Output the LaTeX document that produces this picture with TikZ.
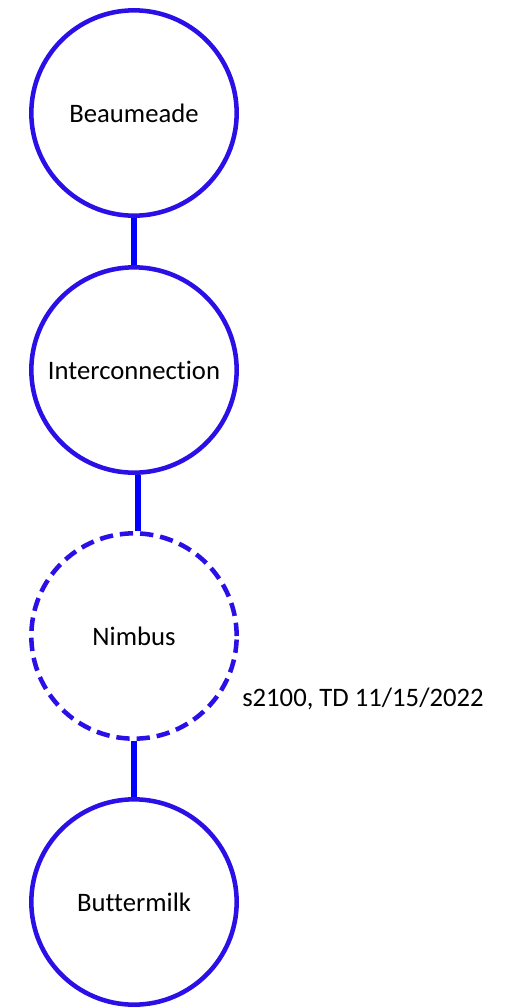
\documentclass[tikz,border=0pt]{standalone}
\usepackage{fontspec}
\setmainfont[Ligatures=NoCommon]{Carlito}
\definecolor{ringblue}{HTML}{2A10E6}
\definecolor{linkblue}{HTML}{0000FF}
\begin{document}
\begin{tikzpicture}[x=0.75pt,y=-0.75pt,
  site/.style={circle,draw=ringblue,line width=3.4pt,minimum size=154pt,inner sep=0pt,
    font=\fontsize{20pt}{24pt}\selectfont,text=black},
  planned/.style={site,dash pattern=on 10pt off 5.2pt},
  link/.style={draw=linkblue,line width=4.5pt},
  note/.style={font=\fontsize{20pt}{24pt}\selectfont,text=black,inner sep=0pt,anchor=west}]
\useasboundingbox (0,0) rectangle (506,1008);
\fill[white] (0,0) rectangle (506,1008);
\node[site] (bea) at (134,113) {Beaumeade};
\node[site] (int) at (134,370) {Interconnection};
\node[planned] (nim) at (134,636) {Nimbus};
\node[site] (but) at (134,902) {Buttermilk};
\node[note] (lbl) at (242,699) {s2100, TD 11/15/2022};
\draw[link] (bea.south) -- (int.north);
\draw[link] ([xshift=3]int.south) -- ([xshift=3]nim.north);
\draw[link] (nim.south) -- (but.north);
\end{tikzpicture}
\end{document}
